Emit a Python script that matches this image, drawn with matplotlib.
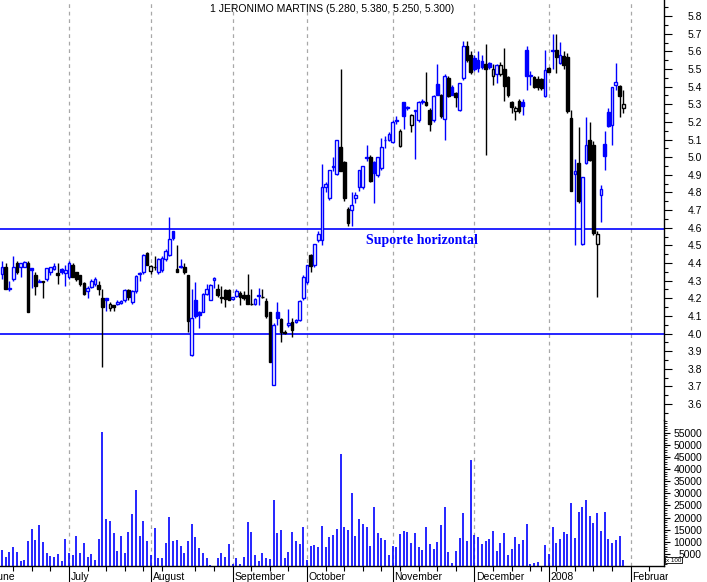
"""
Candlestick chart of Jeronimo Martins (June 2007 - January 2008) with volume
and two horizontal support lines.
"""

import matplotlib

matplotlib.use("Agg")
import matplotlib.pyplot as plt
import matplotlib.transforms as mtransforms
from matplotlib.patches import Rectangle
import numpy as np

plt.rcParams["font.family"] = ["Liberation Sans", "DejaVu Sans"]

TITLE = "1 JERONIMO MARTINS (5.280, 5.380, 5.250, 5.300)"
SUPPORT_LABEL = "Suporte horizontal"

# one value per trading day, 6 June 2007 .. 30 January 2008
opens = [
    4.34, 4.38, 4.25, 4.31, 4.40, 4.38, 4.38, 4.40, 4.37, 4.33,
    4.295, 4.30, 4.31, 4.35, 4.365, 4.345, 4.365, 4.345, 4.32, 4.39,
    4.35, 4.33, 4.285, 4.24, 4.265, 4.28, 4.275, 4.20, 4.20, 4.145,
    4.16, 4.165, 4.175, 4.19, 4.245, 4.18, 4.24, 4.345, 4.35, 4.455,
    4.355, 4.38, 4.35, 4.36, 4.42, 4.445, 4.58, 4.365, 4.385, 4.38,
    4.33, 3.88, 4.19, 4.125, 4.125, 4.225, 4.19, 4.305, 4.25, 4.21,
    4.245, 4.245, 4.195, 4.215, 4.23, 4.22, 4.22, 4.17, 4.17, 4.215,
    4.21, 4.185, 4.12, 3.71, 4.12, 4.08, 4.01, 4.05, 4.065, 4.067,
    4.075, 4.20, 4.29, 4.445, 4.39, 4.53, 4.53, 4.83, 4.77, 4.945,
    4.905, 5.055, 4.975, 4.705, 4.70, 4.77, 4.83, 4.83, 4.995, 5.00,
    4.975, 4.90, 4.94, 5.095, 5.10, 5.085, 5.205, 5.065, 5.31, 5.278,
    5.185, 5.26, 5.21, 5.31, 5.315, 5.27, 5.21, 5.415, 5.35, 5.215,
    5.45, 5.40, 5.365, 5.265, 5.45, 5.63, 5.58, 5.56, 5.55, 5.545,
    5.53, 5.535, 5.46, 5.47, 5.47, 5.50, 5.455, 5.31, 5.26, 5.32,
    5.31, 5.605, 5.46, 5.455, 5.445, 5.445, 5.345, 5.505, 5.60, 5.605,
    5.535, 5.575, 5.57, 5.22, 4.905, 4.965, 4.51, 4.965, 5.095, 5.07,
    4.505, 4.785, 5.075, 5.255, 5.185, 5.41, 5.405, 5.28,
]
highs = [
    4.41, 4.40, 4.30, 4.44, 4.41, 4.40, 4.41, 4.41, 4.37, 4.35,
    4.31, 4.30, 4.37, 4.38, 4.40, 4.40, 4.37, 4.39, 4.41, 4.40,
    4.35, 4.33, 4.29, 4.27, 4.31, 4.32, 4.30, 4.25, 4.20, 4.18,
    4.16, 4.19, 4.19, 4.25, 4.25, 4.245, 4.33, 4.35, 4.45, 4.46,
    4.39, 4.44, 4.43, 4.44, 4.48, 4.66, 4.58, 4.50, 4.42, 4.40,
    4.33, 4.25, 4.29, 4.13, 4.23, 4.28, 4.28, 4.32, 4.28, 4.27,
    4.25, 4.25, 4.21, 4.25, 4.24, 4.24, 4.34, 4.25, 4.20, 4.26,
    4.25, 4.20, 4.12, 4.06, 4.18, 4.09, 4.02, 4.14, 4.09, 4.08,
    4.19, 4.33, 4.39, 4.45, 4.51, 4.58, 4.96, 4.86, 4.93, 5.00,
    5.10, 5.50, 4.98, 4.72, 4.80, 4.80, 4.93, 4.95, 5.07, 5.01,
    4.98, 5.00, 5.11, 5.12, 5.14, 5.21, 5.235, 5.16, 5.31, 5.29,
    5.245, 5.27, 5.32, 5.33, 5.485, 5.28, 5.35, 5.53, 5.36, 5.47,
    5.46, 5.41, 5.37, 5.42, 5.66, 5.66, 5.60, 5.58, 5.60, 5.58,
    5.64, 5.54, 5.53, 5.53, 5.54, 5.62, 5.46, 5.32, 5.29, 5.33,
    5.33, 5.63, 5.49, 5.46, 5.46, 5.45, 5.61, 5.51, 5.70, 5.70,
    5.655, 5.60, 5.59, 5.27, 4.99, 5.17, 4.89, 5.23, 5.20, 5.09,
    4.58, 4.84, 5.15, 5.28, 5.40, 5.535, 5.41, 5.38,
]
lows = [
    4.31, 4.25, 4.24, 4.30, 4.34, 4.32, 4.38, 4.12, 4.26, 4.22,
    4.29, 4.20, 4.30, 4.33, 4.36, 4.28, 4.34, 4.27, 4.31, 4.32,
    4.30, 4.27, 4.22, 4.20, 4.26, 4.27, 4.22, 3.81, 4.13, 4.13,
    4.13, 4.16, 4.165, 4.18, 4.19, 4.17, 4.23, 4.30, 4.34, 4.39,
    4.34, 4.36, 4.34, 4.35, 4.41, 4.44, 4.53, 4.35, 4.37, 4.34,
    4.01, 3.87, 4.09, 4.03, 4.12, 4.22, 4.19, 4.26, 4.21, 4.175,
    4.15, 4.19, 4.19, 4.21, 4.16, 4.19, 4.165, 4.16, 4.16, 4.16,
    4.20, 4.09, 3.84, 3.71, 4.05, 3.95, 4.00, 4.04, 3.98, 4.06,
    4.07, 4.19, 4.28, 4.35, 4.38, 4.52, 4.50, 4.80, 4.76, 4.92,
    4.90, 4.92, 4.75, 4.61, 4.61, 4.74, 4.81, 4.82, 4.98, 4.86,
    4.74, 4.89, 4.93, 5.05, 5.09, 5.08, 5.19, 5.06, 5.16, 5.27,
    5.14, 4.99, 5.20, 5.30, 5.29, 5.15, 5.20, 5.35, 5.22, 5.10,
    5.34, 5.35, 5.285, 5.26, 5.44, 5.54, 5.47, 5.49, 5.48, 5.50,
    5.01, 5.50, 5.41, 5.42, 5.46, 5.32, 5.34, 5.25, 5.21, 5.25,
    5.24, 5.38, 5.41, 5.39, 5.38, 5.38, 5.34, 5.48, 5.50, 5.475,
    5.53, 5.50, 5.25, 4.81, 4.50, 4.74, 4.50, 4.96, 4.98, 4.56,
    4.21, 4.63, 4.93, 5.17, 5.07, 5.38, 5.23, 5.25,
]
closes = [
    4.38, 4.25, 4.26, 4.38, 4.35, 4.40, 4.405, 4.12, 4.36, 4.27,
    4.30, 4.29, 4.37, 4.38, 4.385, 4.33, 4.35, 4.36, 4.40, 4.32,
    4.31, 4.28, 4.225, 4.26, 4.30, 4.31, 4.255, 4.15, 4.19, 4.165,
    4.15, 4.18, 4.185, 4.245, 4.205, 4.24, 4.325, 4.34, 4.445, 4.39,
    4.385, 4.375, 4.425, 4.43, 4.47, 4.535, 4.54, 4.35, 4.375, 4.35,
    4.07, 4.09, 4.10, 4.105, 4.225, 4.255, 4.275, 4.315, 4.22, 4.20,
    4.195, 4.19, 4.205, 4.24, 4.205, 4.20, 4.17, 4.165, 4.195, 4.22,
    4.205, 4.10, 3.84, 4.05, 4.09, 4.01, 4.005, 4.06, 4.02, 4.077,
    4.185, 4.32, 4.39, 4.385, 4.505, 4.565, 4.83, 4.85, 4.925, 4.95,
    5.095, 4.92, 4.77, 4.625, 4.73, 4.785, 4.925, 4.95, 5.00, 4.865,
    4.91, 5.00, 5.06, 5.10, 5.13, 5.20, 5.21, 5.15, 5.235, 5.283,
    5.24, 5.265, 5.315, 5.32, 5.295, 5.19, 5.345, 5.355, 5.235, 5.46,
    5.345, 5.355, 5.34, 5.42, 5.63, 5.55, 5.48, 5.50, 5.505, 5.51,
    5.50, 5.51, 5.50, 5.525, 5.52, 5.405, 5.35, 5.285, 5.28, 5.26,
    5.29, 5.46, 5.465, 5.40, 5.395, 5.39, 5.495, 5.485, 5.605, 5.57,
    5.58, 5.52, 5.26, 4.81, 4.92, 4.75, 4.89, 5.07, 4.985, 4.57,
    4.565, 4.82, 5.005, 5.175, 5.395, 5.425, 5.345, 5.30,
]
volumes = [
    6600, 3700, 5800, 7900, 5800, 2100, 2500, 10300, 15300, 10700,
    16900, 9900, 5400, 4100, 3700, 5000, 2100, 11200, 5400, 4500,
    12400, 5400, 9500, 3700, 5000, 2500, 11200, 55400, 19400, 18600,
    13600, 6200, 12400, 5400, 14000, 21500, 31400, 12400, 18600, 10300,
    4500, 15700, 3300, 3300, 9500, 20200, 10300, 10700, 8300, 5400,
    10300, 17400, 12000, 7400, 5400, 3300, 400, 0, 3300, 5400,
    3700, 9100, 800, 3300, 800, 3700, 18200, 14000, 4500, 2100,
    5400, 3300, 2900, 27300, 13600, 14900, 3300, 5800, 14000, 10300,
    9100, 16100, 2500, 8300, 8700, 7900, 16500, 7900, 12000, 12800,
    15300, 46300, 16100, 14900, 30200, 12400, 19400, 17400, 16100, 8300,
    24400, 13600, 11600, 10700, 4500, 8400, 7900, 13200, 14500, 14000,
    9500, 13600, 7900, 6600, 16100, 9100, 7000, 9900, 16900, 24400,
    5800, 1200, 6200, 11600, 21900, 10300, 43800, 12800, 12000, 9100,
    10300, 11200, 14500, 6200, 9500, 13600, 4500, 7000, 12000, 9100,
    10700, 17400, 800, 1200, 1700, 0, 8700, 5000, 16100, 9500,
    11200, 14000, 13200, 26000, 11600, 22300, 24400, 27300, 20700, 17800,
    21900, 14500, 22300, 11200, 9500, 10700, 12400, 2500,
]
support_levels = [4.59, 4.00]

# first trading day of each month, counted from the first candle
month_names = ["June", "July", "August", "September", "October",
               "November", "December", "2008", "February"]
month_starts = [-3, 18, 40, 62, 82, 105, 127, 147, 169]
week_starts = list(range(3, 48, 5)) + list(range(52, 143, 5)) + [145] + list(range(149, 178, 5))

BLUE = "#0000ff"
GRID = "#a8a8a8"
W, H = 707, 582
PT = 72 / 100  # points per pixel at dpi 100
XLIM = (-0.54, 177.96)


def draw_candles(ax, x, o, h, l, c):
    """Hollow candles: blue when the close beats the previous close."""
    prev = np.concatenate([[c[0] - 1], c[:-1]])
    colors = np.where(c >= prev, BLUE, "black")
    faces = [col if cl < op else "white" for col, op, cl in zip(colors, o, c)]
    ax.vlines(x, l, h, colors=colors, lw=1.0, zorder=2)
    bottoms = np.minimum(o, c)
    heights = np.maximum(np.abs(c - o), 0.002)
    ax.bar(x, heights, bottom=bottoms, width=0.72, color=faces,
           edgecolor=colors, linewidth=1.0, zorder=3)


def main():
    o, h, l, c = (np.array(a) for a in (opens, highs, lows, closes))
    vol = np.array(volumes)
    x = np.arange(len(c))

    fig = plt.figure(figsize=(W / 100, H / 100), dpi=100)
    ax_p = fig.add_axes([0, 1 - 420 / H, 664 / W, 420 / H])
    ax_v = fig.add_axes([0, 1 - 566 / H, 664 / W, 146 / H], sharex=ax_p)

    draw_candles(ax_p, x, o, h, l, c)
    for level in support_levels:
        ax_p.axhline(level, color=BLUE, lw=1.2, zorder=1)
    ax_p.text(97.8, 4.525, SUPPORT_LABEL, color=BLUE, fontsize=10, fontweight="bold",
              family=["Liberation Serif", "DejaVu Serif"], ha="left", va="center")
    ax_p.text(0.5, 1 - 9 / 420, TITLE, transform=ax_p.transAxes,
              ha="center", va="center", fontsize=7.5)

    ax_v.vlines(x, 0, vol, colors=BLUE, lw=1.2)

    for ax in (ax_p, ax_v):
        for m in month_starts:
            ax.axvline(m, color=GRID, lw=0.9, ls=(0, (3, 3)), zorder=0)
        for side in ("left", "top", "bottom"):
            ax.spines[side].set_visible(False)
        ax.spines["right"].set_linewidth(1.0)
        ax.yaxis.tick_right()
        ax.set_facecolor("none")

    ax_p.set_ylim(3.51, 5.891)
    ax_p.set_yticks(np.round(np.arange(3.6, 5.81, 0.1), 1))
    ax_p.set_yticks(np.arange(3.55, 5.86, 0.1), minor=True)
    ax_p.yaxis.set_major_formatter(plt.FormatStrFormatter("%.1f"))
    ax_p.tick_params(axis="y", which="major", length=8 * PT, width=0.8,
                     pad=30 * PT, labelsize=7.5)
    ax_p.tick_params(axis="y", which="minor", length=4 * PT, width=0.8)
    ax_p.tick_params(axis="x", which="both", bottom=False, labelbottom=False)

    ax_v.set_ylim(0, 60300)
    ax_v.set_yticks(np.arange(5000, 55001, 5000))
    ax_v.set_yticks(np.arange(1000, 60001, 1000), minor=True)
    ax_v.tick_params(axis="y", which="major", length=6 * PT, width=0.8,
                     pad=32 * PT, labelsize=7.5)
    ax_v.tick_params(axis="y", which="minor", length=3 * PT, width=0.6)
    for ax in (ax_p, ax_v):
        for label in ax.get_yticklabels():
            label.set_horizontalalignment("right")

    ax_v.spines["bottom"].set_visible(True)
    ax_v.spines["bottom"].set_linewidth(1.0)
    ax_v.set_xticks(month_starts)
    ax_v.set_xticks(week_starts, minor=True)
    ax_v.tick_params(axis="x", which="major", length=16 * PT, width=0.8, labelbottom=False)
    ax_v.tick_params(axis="x", which="minor", length=5 * PT, width=0.8)
    # set_xticks widens the view to hold the June tick, so fix the limits last
    ax_p.set_xlim(*XLIM)

    # month names sit just right of their tick, below the volume panel
    trans = mtransforms.blended_transform_factory(ax_v.transData, fig.transFigure)
    clip = Rectangle((0, 0), 668, H, transform=mtransforms.IdentityTransform())
    for name, m in zip(month_names, month_starts):
        t = fig.text(m + 0.5, 1 - 577 / H, name, transform=trans,
                     ha="left", va="center", fontsize=7.5)
        t.set_clip_path(clip)

    fig.text(666 / W, 1 - 560 / H, "x 100", fontsize=4.5, ha="left", va="center",
             bbox=dict(boxstyle="square,pad=0.15", fc="white", ec="black", lw=0.6))

    fig.savefig("out.png", dpi=100)


if __name__ == "__main__":
    main()
